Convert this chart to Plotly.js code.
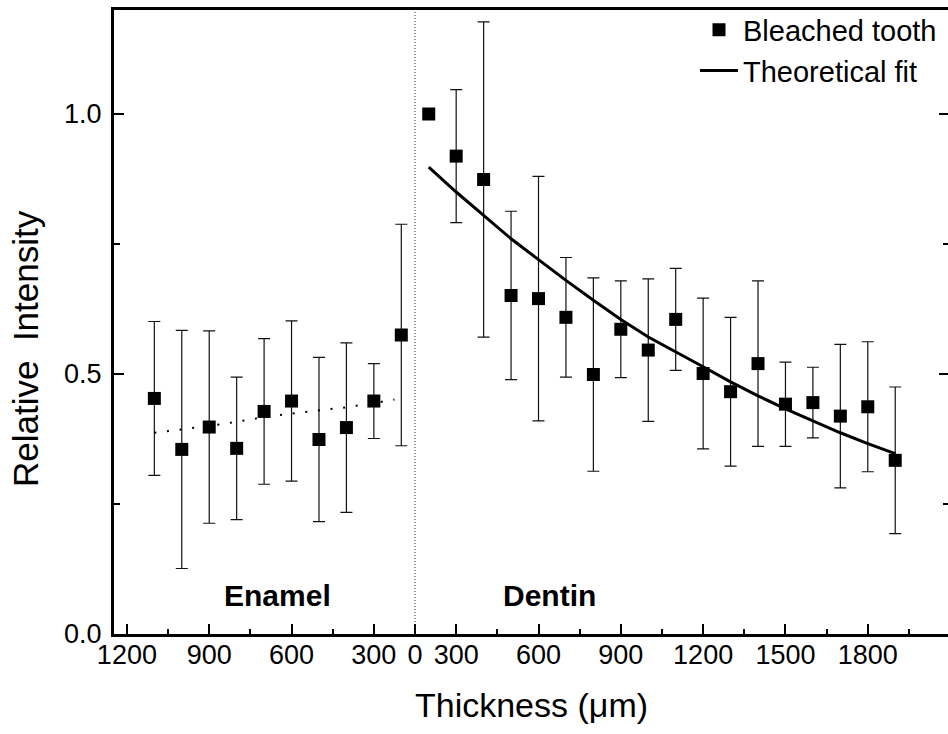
<!DOCTYPE html>
<html>
<head>
<meta charset="utf-8">
<script src="https://cdn.plot.ly/plotly-3.0.1.min.js"></script>
<style>
html, body { margin: 0; padding: 0; overflow: hidden; background: #fff; }
#chart { width: 951px; height: 734px; }
</style>
</head>
<body>
<div id="chart"></div>
<script>
// ---- data ----
// Enamel side (depth in µm, axis runs right-to-left)
const enamelDepth     = [1100, 1000, 900, 800, 700, 600, 500, 400, 300, 200];
const enamelIntensity = [0.453, 0.355, 0.398, 0.357, 0.428, 0.448, 0.374, 0.397, 0.448, 0.575];
const enamelError     = [0.148, 0.229, 0.185, 0.137, 0.140, 0.154, 0.158, 0.163, 0.072, 0.213];

const enamelFitDepth  = [1100, 1000, 900, 800, 700, 600, 500, 400, 300, 225];
const enamelFit       = [0.387, 0.393, 0.400, 0.408, 0.417, 0.424, 0.430, 0.436, 0.444, 0.451];

// Dentin side (depth in µm, axis runs left-to-right)
const dentinDepth     = [200, 300, 400, 500, 600, 700, 800, 900, 1000, 1100, 1200, 1300, 1400, 1500, 1600, 1700, 1800, 1900];
const dentinIntensity = [1.000, 0.919, 0.874, 0.651, 0.645, 0.609, 0.499, 0.586, 0.546, 0.605, 0.501, 0.466, 0.520, 0.442, 0.445, 0.419, 0.437, 0.334];
const dentinError     = [0, 0.128, 0.303, 0.162, 0.235, 0.115, 0.186, 0.093, 0.137, 0.098, 0.145, 0.143, 0.159, 0.081, 0.068, 0.138, 0.125, 0.141];

const dentinFitDepth  = [200, 300, 400, 500, 600, 700, 800, 900, 1000, 1100, 1200, 1300, 1400, 1500, 1600, 1700, 1800, 1900];
const dentinFit       = [0.898, 0.850, 0.805, 0.760, 0.720, 0.680, 0.642, 0.605, 0.571, 0.543, 0.514, 0.485, 0.458, 0.433, 0.410, 0.387, 0.366, 0.347];

// tick labels
const enamelTicks = [1200, 900, 600, 300];
const enamelMinor = [1050, 750, 450];
const dentinTicks = [300, 600, 900, 1200, 1500, 1800];
const dentinMinor = [450, 750, 1050, 1350, 1650, 1950];
const yTicks      = [0, 0.5, 1.0];
const yTickText   = ['0.0', '0.5', '1.0'];
const yMinor      = [0.25, 0.75];

// ---- shared axis: the enamel/dentin junction sits at 150 µm on both scales ----
const JUNCTION = 150;
const enamelU = d => 2 * JUNCTION - d;   // enamel depth mapped onto the shared axis

const FONT = 'Liberation Sans, Arial, Helvetica, sans-serif';
const black = '#000';

const traces = [
  {
    x: dentinDepth, y: dentinIntensity, type: 'scatter', mode: 'markers',
    name: 'Bleached tooth', legendrank: 1,
    marker: { symbol: 'square', size: 13, color: black },
    error_y: { type: 'data', array: dentinError, visible: true, color: '#111', thickness: 1.2, width: 6 }
  },
  {
    x: enamelDepth.map(enamelU), y: enamelIntensity, type: 'scatter', mode: 'markers',
    name: 'Bleached tooth (enamel)', showlegend: false,
    marker: { symbol: 'square', size: 13, color: black },
    error_y: { type: 'data', array: enamelError, visible: true, color: '#111', thickness: 1.2, width: 6 }
  },
  {
    x: dentinFitDepth, y: dentinFit, type: 'scatter', mode: 'lines',
    name: 'Theoretical fit', legendrank: 2,
    line: { color: black, width: 3 }
  },
  {
    x: enamelFitDepth.map(enamelU), y: enamelFit, type: 'scatter', mode: 'lines',
    name: 'Enamel fit', showlegend: false,
    line: { color: black, width: 2, dash: '2px,10.7px' }
  }
];

const tickvals = enamelTicks.map(enamelU).concat([JUNCTION]).concat(dentinTicks);
const ticktext = enamelTicks.map(String).concat(['0']).concat(dentinTicks.map(String));
const minorvals = enamelMinor.map(enamelU).concat(dentinMinor);

const layout = {
  width: 951, height: 734,
  margin: { l: 114, r: 2, t: 10, b: 100 },
  paper_bgcolor: '#fff', plot_bgcolor: '#fff',
  font: { family: FONT, color: black, size: 27 },
  showlegend: true,
  legend: {
    x: 0.6958, y: 1.009, xanchor: 'left', yanchor: 'top',
    bgcolor: 'rgba(0,0,0,0)', borderwidth: 0,
    font: { family: FONT, size: 29, color: black },
    itemwidth: 38, traceorder: 'normal'
  },
  xaxis: {
    range: [enamelU(1247), 2096],
    showgrid: false, zeroline: false,
    showline: true, linecolor: black, linewidth: 3, mirror: true,
    ticks: 'inside', ticklen: 10, tickwidth: 2, tickcolor: black,
    tickmode: 'array', tickvals: tickvals, ticktext: ticktext,
    tickfont: { family: FONT, size: 27, color: black },
    ticklabelstandoff: -5,
    minor: { tickmode: 'array', tickvals: minorvals, ticks: 'inside', ticklen: 5, tickwidth: 2, tickcolor: black, showgrid: false },
    title: { text: 'Thickness (\u03bcm)', font: { family: FONT, size: 34, color: black }, standoff: 24 }
  },
  yaxis: {
    range: [0, 1.2],
    showgrid: false, zeroline: false,
    showline: true, linecolor: black, linewidth: 3, mirror: 'ticks',
    ticks: 'inside', ticklen: 10, tickwidth: 2, tickcolor: black,
    tickmode: 'array', tickvals: yTicks, ticktext: yTickText,
    tickfont: { family: FONT, size: 27, color: black },
    ticklabelstandoff: 4,
    minor: { tickmode: 'array', tickvals: yMinor, ticks: 'inside', ticklen: 6, tickwidth: 2, tickcolor: black, showgrid: false }
  },
  shapes: [
    { type: 'line', xref: 'x', yref: 'paper', x0: JUNCTION, x1: JUNCTION, y0: 0, y1: 1,
      line: { color: '#333', width: 1, dash: '1px,2px' } }
  ],
  annotations: [
    { text: 'Relative\u00a0\u00a0Intensity', xref: 'paper', yref: 'paper',
      x: -0.1066, y: 0.4583, xanchor: 'center', yanchor: 'middle', textangle: -90,
      showarrow: false, font: { family: FONT, size: 35, color: black } },
    { text: '<b>Enamel</b>', xref: 'x', yref: 'y', x: enamelU(650), y: 0.075,
      showarrow: false, font: { family: FONT, size: 30, color: black } },
    { text: '<b>Dentin</b>', xref: 'x', yref: 'y', x: 640, y: 0.075,
      showarrow: false, font: { family: FONT, size: 30, color: black } }
  ]
};

Plotly.newPlot('chart', traces, layout, { displayModeBar: false, staticPlot: true });
</script>
</body>
</html>
